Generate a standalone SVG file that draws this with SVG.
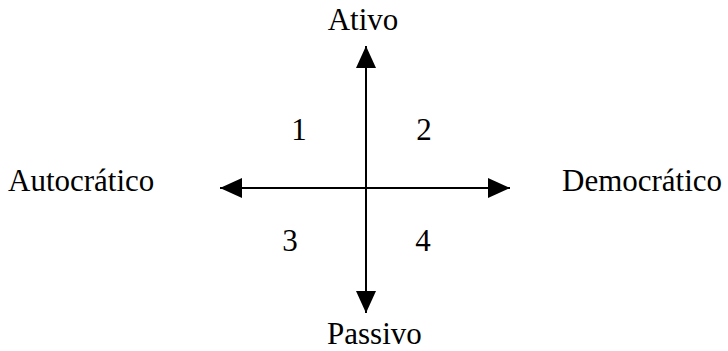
<svg xmlns="http://www.w3.org/2000/svg" width="728" height="351" viewBox="0 0 728 351">
<style>
text{font-family:"Liberation Serif","Times New Roman",serif;font-size:31px;fill:#000}
.c{text-anchor:middle}
line{stroke:#000;stroke-width:2}
</style>
<defs>
<marker id="ah" viewBox="0 0 22 20" refX="22" refY="10" markerWidth="22" markerHeight="20" markerUnits="userSpaceOnUse" orient="auto">
<path d="M0,0 L22,10 L0,20 Z" fill="#000"/>
</marker>
</defs>
<rect width="728" height="351" fill="#fff"/>
<g id="connectors">
<line x1="366" y1="188" x2="366" y2="46" marker-end="url(#ah)"/>
<line x1="366" y1="188" x2="366" y2="313" marker-end="url(#ah)"/>
<line x1="366" y1="188" x2="220" y2="188" marker-end="url(#ah)"/>
<line x1="366" y1="188" x2="510" y2="188" marker-end="url(#ah)"/>
</g>
<g id="ativo"><text class="c" x="363" y="30">Ativo</text></g>
<g id="passivo"><text x="327" y="344">Passivo</text></g>
<g id="autocratico"><text x="8" y="191">Autocrático</text></g>
<g id="democratico"><text x="562" y="191">Democrático</text></g>
<g id="q1"><text class="c" x="299" y="140">1</text></g>
<g id="q2"><text class="c" x="424" y="140">2</text></g>
<g id="q3"><text class="c" x="290" y="251">3</text></g>
<g id="q4"><text class="c" x="423" y="251">4</text></g>
</svg>
